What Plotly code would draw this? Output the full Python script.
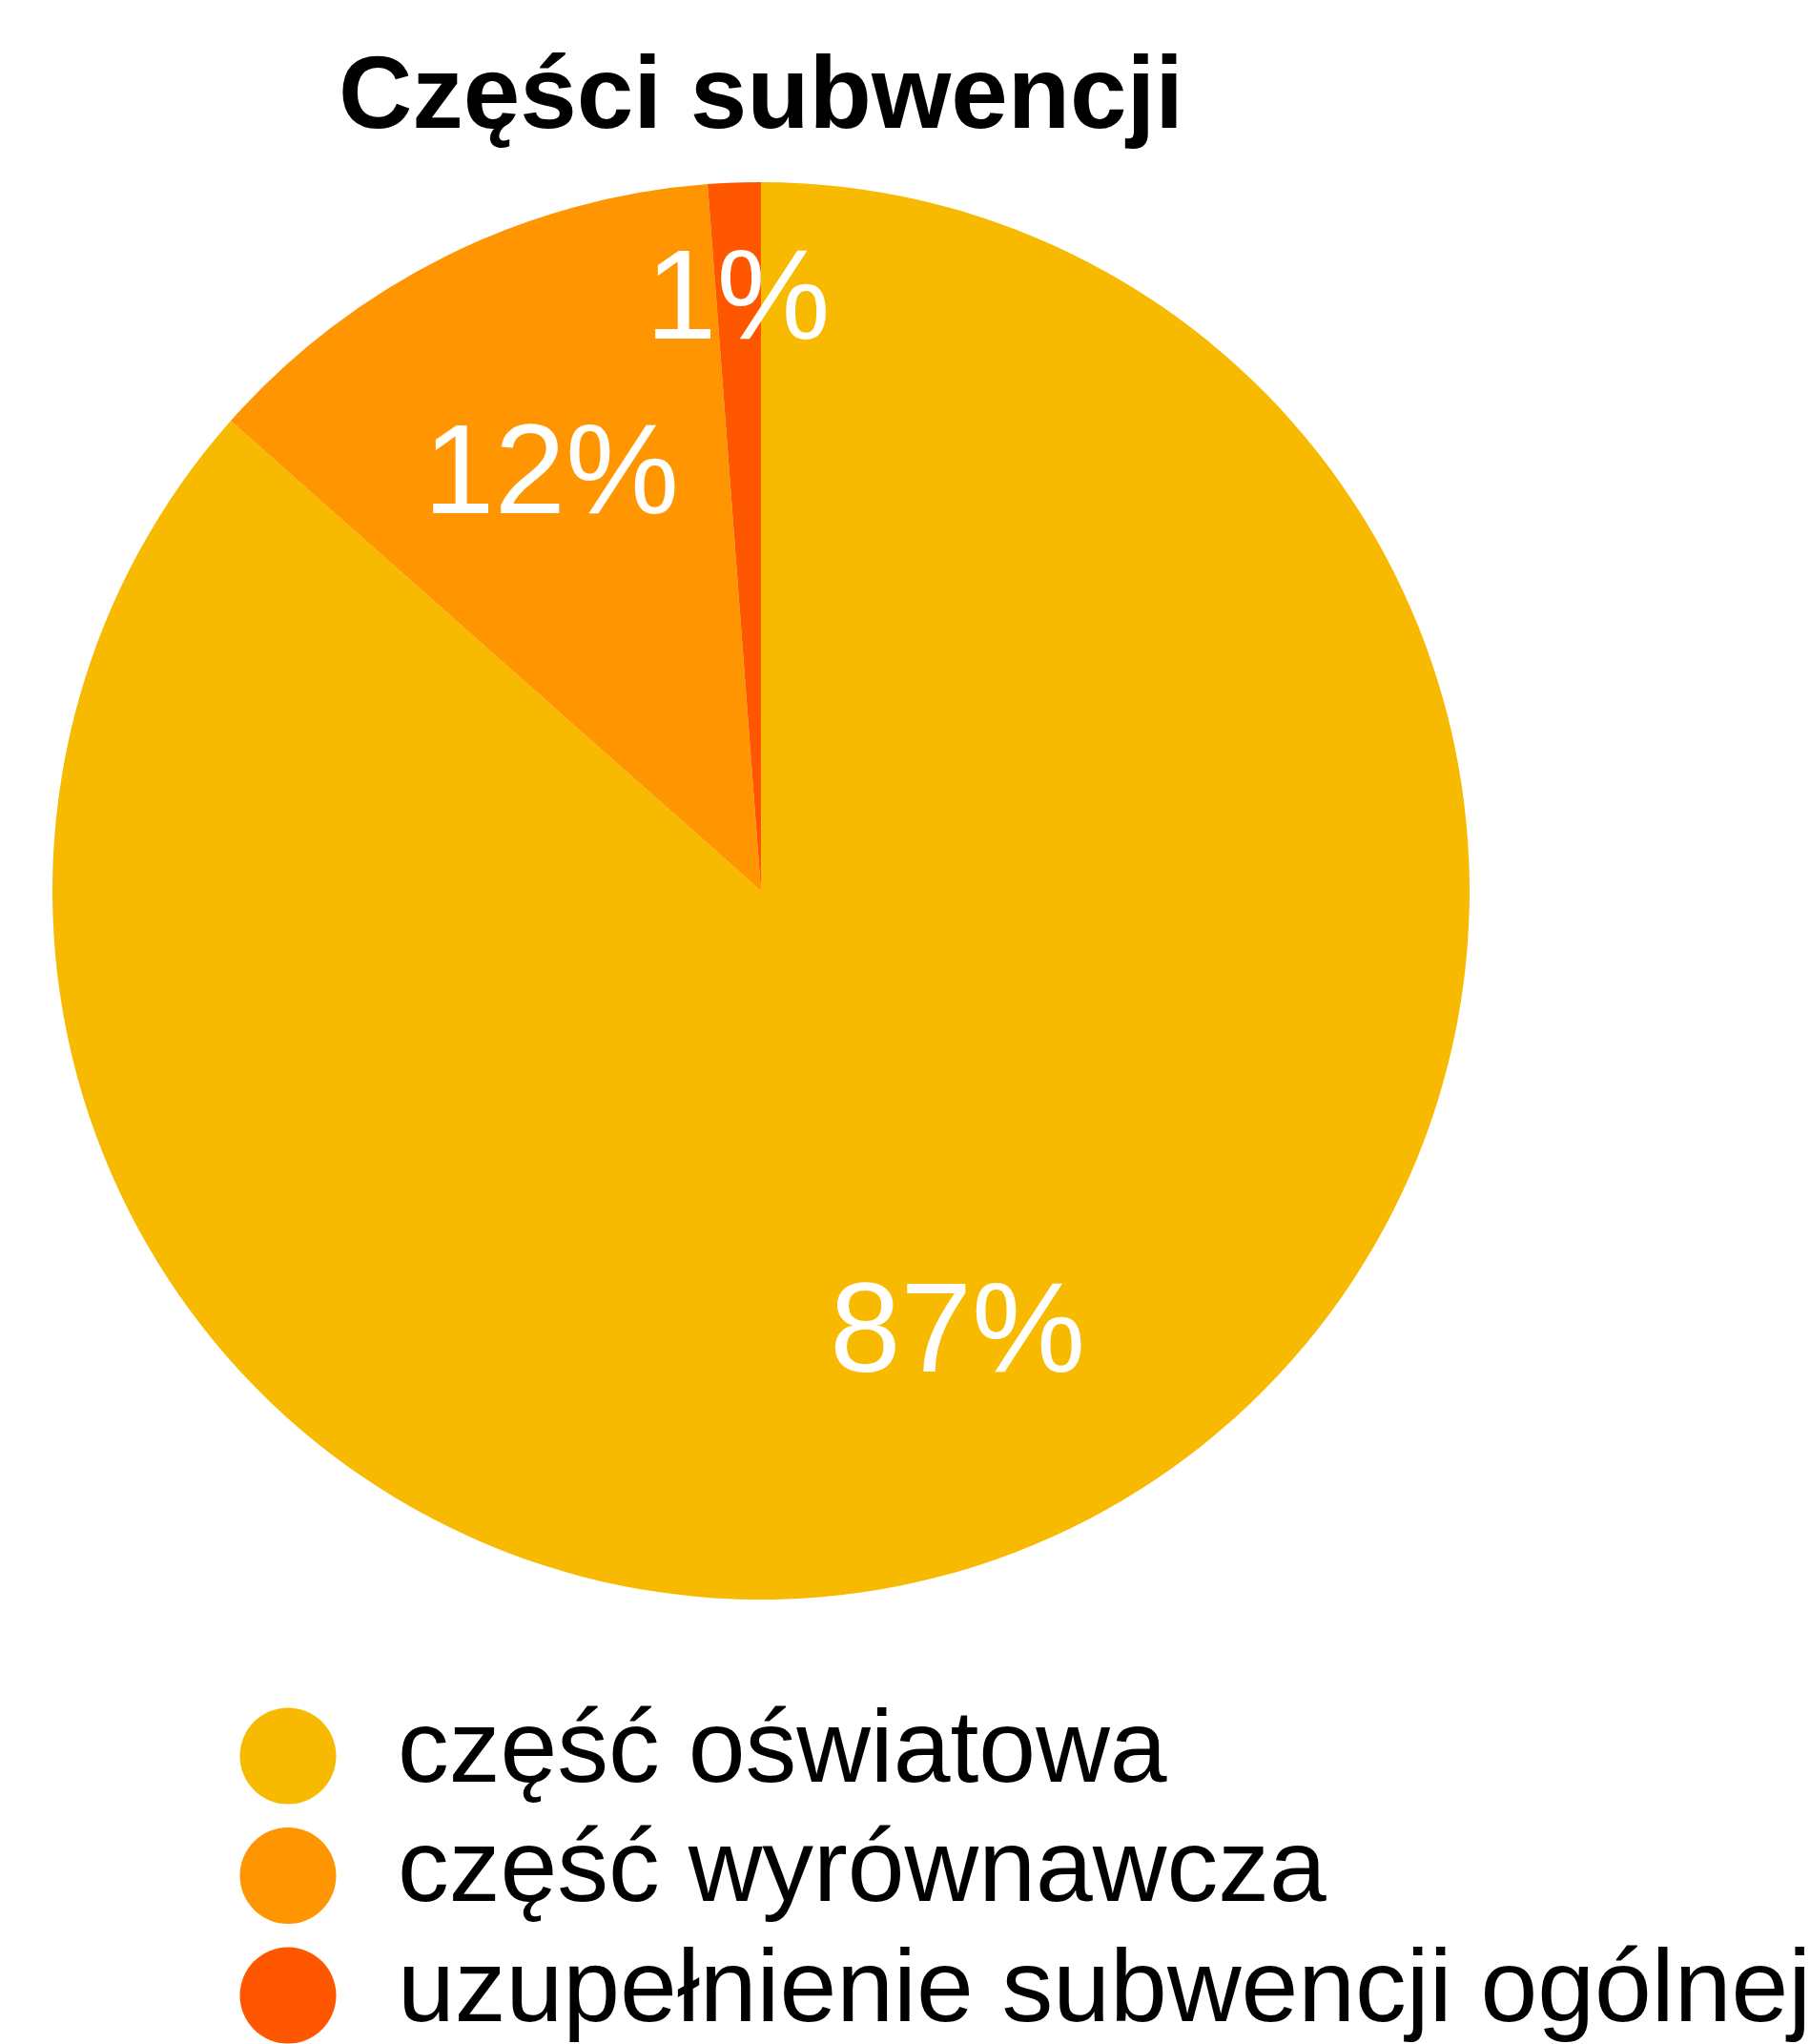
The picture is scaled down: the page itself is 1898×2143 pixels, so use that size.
import math
import plotly.graph_objects as go

# ---- data ----
categories = ["część oświatowa", "część wyrównawcza", "uzupełnienie subwencji ogólnej"]
shares = [86.54, 12.26, 1.20]
label_texts = ["87%", "12%", "1%"]
colors = ["#F7BA00", "#FF9500", "#FF5700"]
title_text = "Części subwencji"

W, H = 1898, 2143
FONT = "Liberation Sans, Arial, sans-serif"

# pie geometry (paper)
dom_x = [55 / W, 1541 / W]
dom_y = [1 - 1677 / H, 1 - 191 / H]
cx = sum(dom_x) / 2
cy = sum(dom_y) / 2
rx = (dom_x[1] - dom_x[0]) / 2
ry = (dom_y[1] - dom_y[0]) / 2
label_radius = [0.675, 0.665, 0.842]

fig = go.Figure()
fig.add_trace(go.Pie(
    labels=categories, values=shares, sort=False, direction="clockwise",
    rotation=0, marker=dict(colors=colors, line=dict(width=0)),
    textinfo="none", hoverinfo="label+percent", showlegend=False,
    domain=dict(x=dom_x, y=dom_y),
))

# percentage labels placed at the angular middle of each slice
total = sum(shares)
acc = 0.0
annotations = []
for v, t, f in zip(shares, label_texts, label_radius):
    mid = (acc + v / 2) / total * 2 * math.pi
    acc += v
    annotations.append(dict(
        x=cx + f * rx * math.sin(mid), y=cy + f * ry * math.cos(mid),
        xref="paper", yref="paper", text=t, showarrow=False,
        xanchor="center", yanchor="middle",
        font=dict(family=FONT, size=134, color="white"),
    ))

# custom legend with large circle markers
fig.add_trace(go.Scatter(
    x=[0] * len(categories), y=categories, mode="markers",
    marker=dict(color=colors, size=101, line=dict(width=0)),
    xaxis="x2", yaxis="y2", showlegend=False, hoverinfo="skip", cliponaxis=False,
))
fig.add_trace(go.Scatter(
    x=[1] * len(categories), y=categories, mode="text", text=categories,
    textposition="middle right",
    textfont=dict(family=FONT, size=107.5, color="black"),
    xaxis="x2", yaxis="y2", showlegend=False, hoverinfo="skip", cliponaxis=False,
))

fig.update_layout(
    width=W, height=H,
    margin=dict(l=0, r=0, t=0, b=0),
    paper_bgcolor="white", plot_bgcolor="white",
    title=dict(text="<b>" + title_text + "</b>", x=cx, xanchor="center",
               y=1 - 97 / H, yanchor="middle",
               font=dict(family=FONT, size=107, color="black")),
    annotations=annotations,
    xaxis2=dict(domain=[0, 1], range=[-302 / 115, (W - 302) / 115], visible=False,
                fixedrange=True),
    yaxis2=dict(domain=[0, 1 - 1778 / H], type="category",
                range=[2.406, -0.502], visible=False, fixedrange=True),
)

fig.write_html("out.html", config={"displayModeBar": False},
               post_script="document.body.style.margin='0';document.body.style.overflow='hidden';")
